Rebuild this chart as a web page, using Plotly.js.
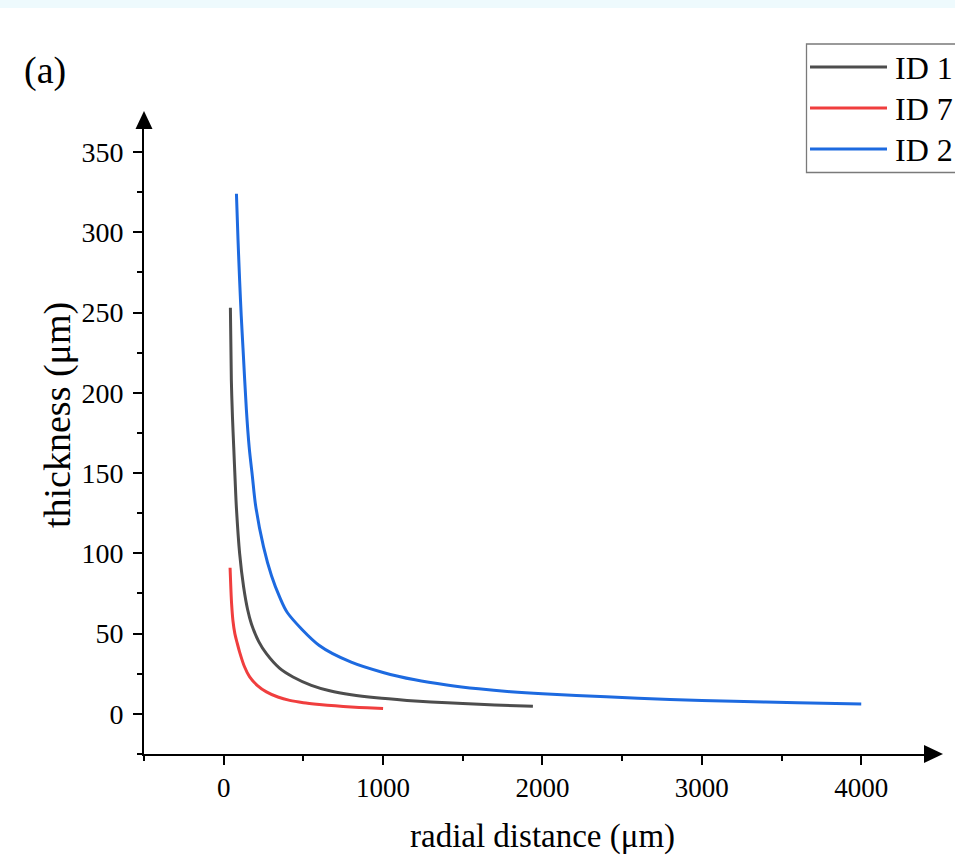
<!DOCTYPE html>
<html>
<head>
<meta charset="utf-8">
<script src="https://cdn.plot.ly/plotly-3.0.1.min.js"></script>
<style>
  html, body { margin: 0; padding: 0; background: #ffffff; }
  #topband { position: absolute; left: 0; top: 0; width: 955px; height: 8px; background: #eefafd; z-index: 5; }
  #chart { width: 955px; height: 864px; }
</style>
</head>
<body>
<div id="topband"></div>
<div id="chart"></div>
<script>
// ---- data ----
const seriesNames = ["ID 1", "ID 7", "ID 2"];
const seriesColors = ["#4d4d4d", "#f03e3e", "#1d6ae0"];

const id1_x = [42, 48, 55, 63, 72, 80, 100, 125, 150, 174, 220, 268, 350, 435, 550, 665, 800, 958, 1150, 1300, 1500, 1700, 1940];
const id1_y = [253, 208, 185, 166, 145, 128, 100, 79, 65, 56, 45, 37.5, 28.5, 23, 17.8, 14.4, 11.9, 10, 8.4, 7.4, 6.4, 5.5, 4.7];

const id7_x = [40, 45, 50, 58, 70, 85, 100, 130, 163, 210, 268, 340, 414, 500, 600, 700, 800, 900, 1000];
const id7_y = [91, 78, 68, 58, 50, 44, 38.5, 29.5, 23, 17.8, 13.7, 10.5, 8.4, 7, 5.9, 5.0, 4.3, 3.8, 3.3];

const id2_x = [80, 90, 100, 110, 121, 142, 160, 180, 200, 250, 300, 350, 400, 600, 800, 1000, 1200, 1400, 1600, 1800, 2000, 2400, 2800, 3200, 3600, 4000];
const id2_y = [324, 295, 270, 248, 228, 190, 166, 148, 130, 104, 86, 73, 63, 42.6, 32.2, 25.8, 21.2, 18, 15.6, 13.8, 12.5, 10.6, 9.0, 7.8, 7.0, 6.2];

const xTickVals = [0, 1000, 2000, 3000, 4000];
const yTickVals = [0, 50, 100, 150, 200, 250, 300, 350];

// ---- layout geometry ----
const W = 955, H = 864;
const M = { l: 144, r: 30, t: 128, b: 110 };
const PW = W - M.l - M.r, PH = H - M.t - M.b;
const px = p => (p - M.l) / PW;          // pixel x -> paper x
const py = q => (H - M.b - q) / PH;      // pixel y -> paper y

const FONT = "Liberation Serif, Times New Roman, serif";

const xs = [id1_x, id7_x, id2_x];
const ys = [id1_y, id7_y, id2_y];
const traces = xs.map((x, i) => ({
  x: x, y: ys[i], type: "scatter", mode: "lines",
  name: seriesNames[i],
  line: { color: seriesColors[i], width: 3, shape: "spline", smoothing: 0.8 },
  showlegend: false
}));

const shapes = [];
const annotations = [];

// arrow heads on axes
shapes.push({ type: "path", xref: "paper", yref: "paper",
  path: `M ${px(144)},${py(111)} L ${px(135.5)},${py(129)} L ${px(152.5)},${py(129)} Z`,
  fillcolor: "#000", line: { width: 0 } });
shapes.push({ type: "path", xref: "paper", yref: "paper",
  path: `M ${px(943)},${py(754)} L ${px(924)},${py(745)} L ${px(924)},${py(763)} Z`,
  fillcolor: "#000", line: { width: 0 } });

// legend box (custom, built from series names/colors)
shapes.push({ type: "rect", xref: "paper", yref: "paper",
  x0: px(806.5), x1: px(975), y0: py(172.5), y1: py(44),
  line: { color: "#7a7a7a", width: 1.3 }, fillcolor: "rgba(0,0,0,0)" });
const legY = [67, 108, 149];
seriesNames.forEach((nm, i) => {
  shapes.push({ type: "line", xref: "paper", yref: "paper",
    x0: px(810), x1: px(887), y0: py(legY[i]), y1: py(legY[i]),
    line: { color: seriesColors[i], width: 3 } });
  annotations.push({ xref: "paper", yref: "paper", x: px(893), y: py(legY[i] + 1),
    text: nm, showarrow: false, xanchor: "left", yanchor: "middle",
    font: { family: FONT, size: 32, color: "#000" } });
});

// panel label
annotations.push({ xref: "paper", yref: "paper", x: px(45), y: py(71),
  text: "(a)", showarrow: false, xanchor: "center", yanchor: "middle",
  font: { family: FONT, size: 38, color: "#000" } });

// y axis title
annotations.push({ xref: "paper", yref: "paper", x: px(57), y: py(415),
  text: "thickness (μm)", showarrow: false, textangle: -90,
  xanchor: "center", yanchor: "middle",
  font: { family: FONT, size: 38, color: "#000" } });

// x axis title
annotations.push({ xref: "paper", yref: "paper", x: px(542), y: py(836),
  text: "radial distance (μm)", showarrow: false,
  xanchor: "center", yanchor: "middle",
  font: { family: FONT, size: 33, color: "#000" } });

const layout = {
  width: W, height: H,
  margin: { l: M.l, r: M.r, t: M.t, b: M.b, autoexpand: false },
  paper_bgcolor: "#ffffff", plot_bgcolor: "#ffffff",
  showlegend: false,
  font: { family: FONT, color: "#000" },
  xaxis: {
    range: [-500, 4400], showgrid: false, zeroline: false,
    showline: true, linecolor: "#000", linewidth: 2,
    tickmode: "array", tickvals: xTickVals, ticktext: xTickVals.map(String),
    ticks: "outside", ticklen: 9, tickwidth: 2, tickcolor: "#000",
    minor: { ticks: "outside", ticklen: 5, tickwidth: 2, tickcolor: "#000", tickmode: "linear", tick0: -500, dtick: 1000, showgrid: false },
    tickfont: { family: FONT, size: 27, color: "#000" },
    fixedrange: true
  },
  yaxis: {
    range: [-25, 365], showgrid: false, zeroline: false,
    showline: true, linecolor: "#000", linewidth: 2,
    tickmode: "array", tickvals: yTickVals, ticktext: yTickVals.map(String),
    ticks: "outside", ticklen: 9, tickwidth: 2, tickcolor: "#000",
    ticklabelstandoff: 4,
    minor: { ticks: "outside", ticklen: 5, tickwidth: 2, tickcolor: "#000", tickmode: "linear", tick0: 25, dtick: 50, showgrid: false },
    tickfont: { family: FONT, size: 28, color: "#000" },
    fixedrange: true
  },
  shapes: shapes,
  annotations: annotations
};

Plotly.newPlot("chart", traces, layout, { displayModeBar: false, staticPlot: true });
</script>
</body>
</html>
